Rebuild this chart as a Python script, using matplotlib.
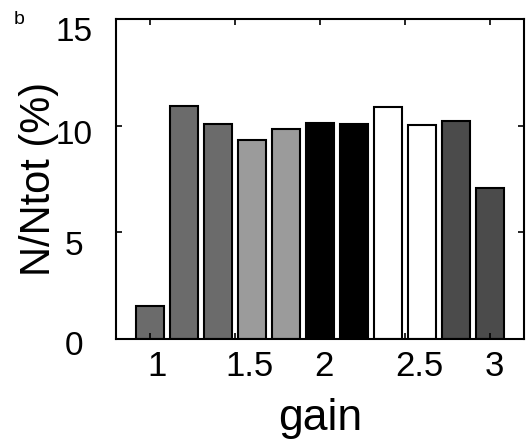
import numpy as np
import matplotlib.pyplot as plt
from matplotlib.transforms import ScaledTranslation

plt.rcParams['font.family'] = ['Liberation Sans', 'DejaVu Sans']

gain = [1.0, 1.2, 1.4, 1.6, 1.8, 2.0, 2.2, 2.4, 2.6, 2.8, 3.0]
frac = [1.55, 10.93, 10.06, 9.32, 9.83, 10.11, 10.08, 10.88, 10.02, 10.20, 7.06]
bar_colors = ['#6b6b6b', '#6b6b6b', '#6b6b6b', '#9b9b9b', '#9b9b9b', '#000000',
              '#000000', '#ffffff', '#ffffff', '#4b4b4b', '#4b4b4b']
xticks = [1, 1.5, 2, 2.5, 3]
xticklabels = ['1', '1.5', '2', '2.5', '3']
yticks = [0, 5, 10, 15]
yticklabels = ['0', '5', '10', '15']

dpi = 100
fig = plt.figure(figsize=(5.26, 4.40), dpi=dpi)
ax = fig.add_axes([116 / 526, 101 / 440, 408 / 526, 320 / 440])

ax.bar(gain, frac, width=0.165, color=bar_colors, edgecolor='black', linewidth=1.5)

ax.set_xlim(0.8, 3.2)
ax.set_ylim(0, 15)
for s in ax.spines.values():
    s.set_linewidth(1.5)

ax.tick_params(direction='in', length=4, width=1.2, top=True, right=True)
ax.set_xticks(xticks)
ax.set_xticklabels(xticklabels, fontsize=25)
ax.tick_params(axis='x', pad=8)
ax.set_yticks(yticks)
ax.set_yticklabels(yticklabels, fontsize=24, ha='center')
ax.tick_params(axis='y', pad=30)

# labels in the original sit a bit off their ticks
x_shift = [7, 15, 4, 14, 4]
for lab, dx in zip(ax.get_xticklabels(), x_shift):
    lab.set_transform(lab.get_transform() + ScaledTranslation(dx / dpi, 0, fig.dpi_scale_trans))
y_shift = [4, 11, 6, 10]
for lab, dy in zip(ax.get_yticklabels(), y_shift):
    lab.set_transform(lab.get_transform() + ScaledTranslation(0, -dy / dpi, fig.dpi_scale_trans))

ax.set_xlabel('gain', fontsize=32, labelpad=11)
ax.set_ylabel('N/Ntot (%)', fontsize=30, labelpad=-2)

fig.text(14 / 526, 1 - 20 / 440, 'b', fontsize=14, ha='left', va='center')

fig.savefig('out.png', dpi=dpi)
